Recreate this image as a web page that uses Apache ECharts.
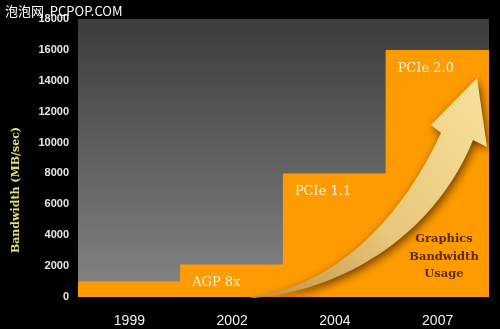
<!DOCTYPE html>
<html>
<head>
<meta charset="utf-8">
<script src="https://cdn.jsdelivr.net/npm/echarts@6/dist/echarts.min.js"></script>
<style>
  html, body { margin: 0; padding: 0; background: #000; }
  #chart { width: 500px; height: 329px; }
</style>
</head>
<body>
<div id="chart"></div>
<script>
// data
const years = ['1999', '2002', '2004', '2007']
const bandwidth = [1000, 2100, 8000, 16000]
const busNames = ['', 'AGP 8x', 'PCIe 1.1', 'PCIe 2.0']
const yTicks = [0, 2000, 4000, 6000, 8000, 10000, 12000, 14000, 16000, 18000]

// 装饰箭头的轮廓 (贝塞尔曲线采样)
const bezier = (p0, p1, p2, p3, n) => {
  const pts = []
  for (let i = 0; i <= n; i++) {
    const t = i / n, u = 1 - t
    pts.push([
      u * u * u * p0[0] + 3 * u * u * t * p1[0] + 3 * u * t * t * p2[0] + t * t * t * p3[0],
      u * u * u * p0[1] + 3 * u * u * t * p1[1] + 3 * u * t * t * p2[1] + t * t * t * p3[1]
    ])
  }
  return pts
}
const arrowPoints = [].concat(
  bezier([248, 297], [322, 290], [394, 234], [441, 133], 30),
  [[431, 125], [477, 78], [487, 147], [473, 140]],
  bezier([473, 140], [442, 218], [364, 287], [254, 298], 30)
)

const chart = echarts.init(document.getElementById('chart'))

const option = {
  backgroundColor: '#000',
  animation: false,
  grid: {
    left: 78,
    right: 11,
    top: 19,
    bottom: 32,
    show: true,
    borderWidth: 0,
    backgroundColor: {
      type: 'linear', x: 0, y: 0, x2: 0, y2: 1,
      colorStops: [
        { offset: 0, color: '#3c3c3c' },
        { offset: 1, color: '#858585' }
      ]
    }
  },
  xAxis: {
    type: 'category',
    data: years,
    axisLine: { show: false },
    axisTick: { show: false },
    axisLabel: {
      color: '#f2f2f2',
      fontFamily: 'Arial, Liberation Sans',
      fontSize: 14,
      margin: 17
    }
  },
  yAxis: {
    type: 'value',
    min: yTicks[0],
    max: yTicks[yTicks.length - 1],
    interval: 2000,
    splitLine: { show: false },
    axisLine: { show: false },
    axisTick: { show: false },
    axisLabel: {
      color: '#e6e6e6',
      fontFamily: 'Arial, Liberation Sans',
      fontWeight: 'bold',
      fontSize: 11,
      margin: 9,
      formatter: (v) => String(v)
    }
  },
  series: [
    {
      type: 'bar',
      data: bandwidth,
      barWidth: 104,
      barCategoryGap: 0,
      itemStyle: { color: '#fe9b00' },
      label: {
        show: true,
        position: 'insideTopLeft',
        distance: 12,
        formatter: (p) => busNames[p.dataIndex],
        color: '#fff3d6',
        fontFamily: 'DejaVu Serif, serif',
        fontSize: 13
      }
    }
  ],
  graphic: [
    // 曲线箭头
    {
      type: 'polygon',
      z: 10,
      shape: { points: arrowPoints },
      style: {
        fill: {
          type: 'linear', x: 1, y: 0, x2: 0, y2: 1,
          colorStops: [
            { offset: 0, color: '#f8e29c' },
            { offset: 0.55, color: '#e8c67a' },
            { offset: 1, color: '#c49040' }
          ]
        },
        shadowBlur: 10,
        shadowColor: 'rgba(60,25,0,0.75)',
        shadowOffsetX: 2,
        shadowOffsetY: 3
      }
    },
    {
      type: 'text',
      z: 11,
      x: 444,
      y: 257,
      style: {
        text: 'Graphics\nBandwidth\nUsage',
        fill: '#5a2e00',
        font: 'bold 11.5px DejaVu Serif, serif',
        lineHeight: 17.5,
        align: 'center',
        verticalAlign: 'middle'
      }
    },
    {
      type: 'text',
      z: 11,
      x: 16,
      y: 190,
      rotation: Math.PI / 2,
      style: {
        text: 'Bandwidth (MB/sec)',
        fill: '#e2e270',
        font: 'bold 11px DejaVu Serif, serif',
        align: 'center',
        verticalAlign: 'middle'
      }
    },
    {
      type: 'text',
      z: 12,
      x: 5,
      y: 11,
      style: {
        text: '泡泡网  PCPOP.COM',
        fill: '#ffffff',
        font: '13px Noto Sans CJK SC, sans-serif',
        verticalAlign: 'middle'
      }
    }
  ]
}

chart.setOption(option)
</script>
</body>
</html>
